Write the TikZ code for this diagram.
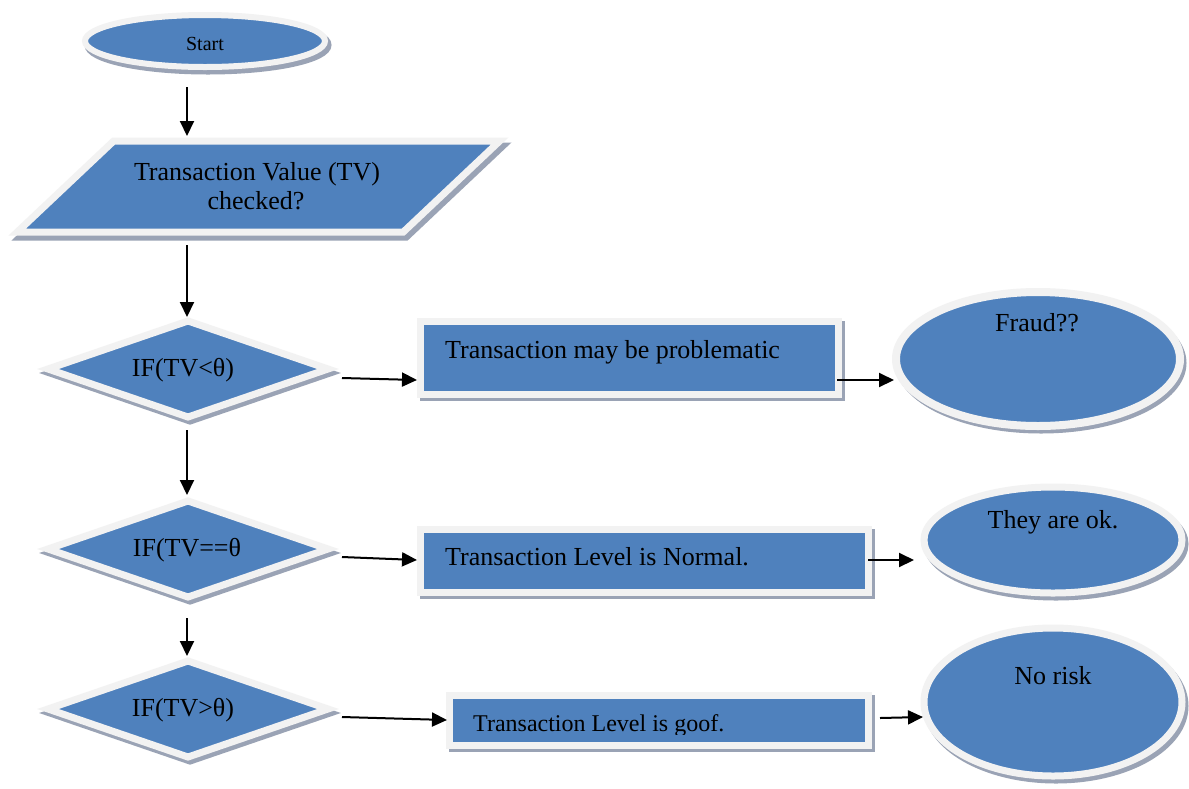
\documentclass[tikz,border=0pt]{standalone}
\usepackage{fontspec}
\setmainfont{Liberation Serif}
\usetikzlibrary{shapes.geometric,arrows.meta}
\definecolor{myblue}{HTML}{4F81BD}
\definecolor{bandgray}{HTML}{F2F2F2}
\definecolor{shadowc}{HTML}{9AA3B5}
\tikzset{
  band/.style={fill=myblue, draw=bandgray, line width=7pt, inner sep=0pt},
  shad/.style={fill=shadowc, draw=shadowc, line width=7pt, inner sep=0pt},
  arr/.style={-{Triangle[length=15pt,width=14pt]}, line width=2pt},
  txt/.style={font=\fontsize{26}{30}\selectfont, inner sep=0pt, anchor=base},
  txtw/.style={txt, anchor=base west},
}
\begin{document}
\begin{tikzpicture}[x=1pt,y=-1pt]
\useasboundingbox[fill=white] (0,0) rectangle (1189,788);

% ---- Start ellipse
\node[shad, ellipse, minimum width=240, minimum height=52] (sts) at (208,45) {};
\node[band, ellipse, line width=6pt, minimum width=240, minimum height=52] (st) at (205,41) {};
\node[txt, font=\fontsize{20}{24}\selectfont] (t1) at (205,50) {Start};

% ---- Parallelogram
\draw[shad, shift={(3,5)}] (113.7,141) -- (499.7,141) -- (403.3,232) -- (17.3,232) -- cycle;
\draw[band] (113.7,141) -- (499.7,141) -- (403.3,232) -- (17.3,232) -- cycle;
\node[txt] (t2a) at (257,180) {Transaction Value (TV)};
\node[txt] (t2b) at (256,209) {checked?};
\coordinate (ptop) at (187,136);
\coordinate (pbot) at (187,245);

% ---- Diamonds (drawn as paths around named centre coordinates)
\foreach \n/\y in {d1/369, d2/549, d3/709}{
  \coordinate (\n) at (188,\y);
  \draw[shad, shift={(2,4)}] (188,\y-48) -- (328,\y) -- (188,\y+48) -- (48,\y) -- cycle;
  \draw[band] (188,\y-48) -- (328,\y) -- (188,\y+48) -- (48,\y) -- cycle;
}
\node[txt] (td1) at (183,376.5) {IF(TV<θ)};
\node[txt] (td2) at (187,556.5) {IF(TV==θ};
\node[txt] (td3) at (183,716.5) {IF(TV>θ)};

% ---- Rectangles
\node[shad, rectangle, minimum width=417.5, minimum height=73] (r1s) at (632.25,360.5) {};
\node[band, rectangle, minimum width=417.5, minimum height=73] (r1) at (629.25,357.5) {};
\node[txtw] (tr1) at (445,358) {Transaction may be problematic};

\node[shad, rectangle, minimum width=448, minimum height=63.5] (r2s) at (647,563.75) {};
\node[band, rectangle, minimum width=448, minimum height=63.5] (r2) at (644,560.75) {};
\node[txtw] (tr2) at (445,565) {Transaction Level is Normal.};

\node[shad, rectangle, minimum width=419, minimum height=50] (r3s) at (662,723.5) {};
\node[band, rectangle, minimum width=419, minimum height=50] (r3) at (659,720.5) {};
\begin{scope}
  \clip (450,690) rectangle (870,734);
  \node[txtw, font=\fontsize{24}{28}\selectfont] (tr3) at (473,731) {Transaction Level is goof.};
\end{scope}

% ---- Ellipses
\node[shad, ellipse, minimum width=284, minimum height=134] (e1s) at (1041,363) {};
\node[band, ellipse, line width=8pt, minimum width=284, minimum height=134] (e1) at (1038,359) {};
\node[txt] (te1) at (1037,331.5) {Fraud??};

\node[shad, ellipse, minimum width=258, minimum height=106] (e2s) at (1056,544) {};
\node[band, ellipse, minimum width=258, minimum height=106] (e2) at (1053,540) {};
\node[txt] (te2) at (1053,528.5) {They are ok.};

\node[shad, ellipse, minimum width=258, minimum height=148] (e3s) at (1056,706) {};
\node[band, ellipse, minimum width=258, minimum height=148] (e3) at (1053,702) {};
\node[txt] (te3) at (1053,684.5) {No risk};

% ---- Connector end points
\coordinate (c1) at (187,87);
\coordinate (c2) at (187,317);
\coordinate (c3) at (187,430);
\coordinate (c4) at (187,495);
\coordinate (c5) at (187,618);
\coordinate (c6) at (187,656);
\coordinate (h1a) at (342,378);  \coordinate (h1b) at (417,380);
\coordinate (h2a) at (837,380);  \coordinate (h2b) at (894,380);
\coordinate (h3a) at (342,557);  \coordinate (h3b) at (417,560);
\coordinate (h4a) at (868,560);  \coordinate (h4b) at (914,560);
\coordinate (h5a) at (342,717);  \coordinate (h5b) at (447,720);
\coordinate (h6a) at (880,718);  \coordinate (h6b) at (923,717);

% ---- Connectors
\draw[arr] (c1) -- (ptop);
\draw[arr] (pbot) -- (c2);
\draw[arr] (c3) -- (c4);
\draw[arr] (c5) -- (c6);
\draw[arr] (h1a) -- (h1b);
\draw[arr] (h2a) -- (h2b);
\draw[arr] (h3a) -- (h3b);
\draw[arr] (h4a) -- (h4b);
\draw[arr] (h5a) -- (h5b);
\draw[arr] (h6a) -- (h6b);
\end{tikzpicture}
\end{document}
